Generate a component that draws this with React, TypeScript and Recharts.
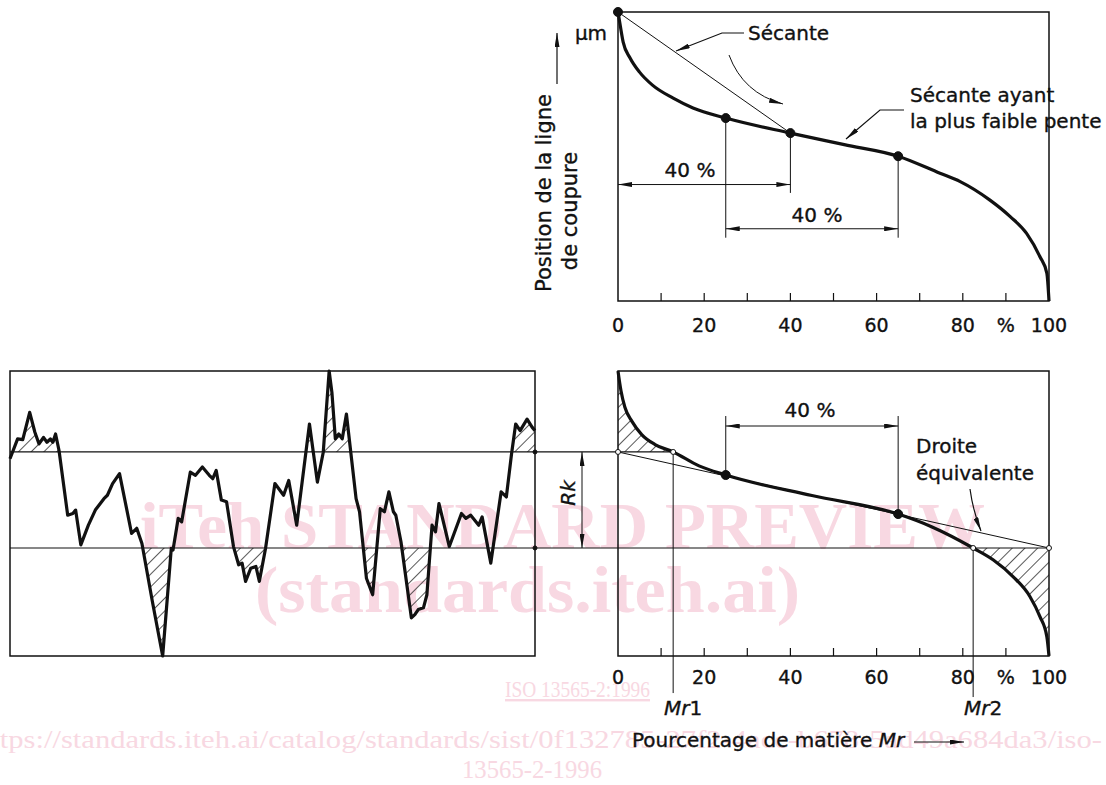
import React from "react";
import {
  ComposedChart,
  Line,
  Area,
  XAxis,
  YAxis,
  ReferenceLine,
  ReferenceArea,
  ReferenceDot,
  Customized,
} from "recharts";

const FONT = '"DejaVu Sans", "Liberation Sans", Arial, sans-serif';
const SERIF = '"Liberation Serif", "DejaVu Serif", serif';
const INK = "#111";
const PINK = "#f8d8e2";

// courbe du haut (Mr %, position de la ligne de coupure)
const topMr = [0, 0.5, 1.2, 2.8, 5, 8, 12.8, 17.4, 25, 40, 52.5, 65, 74.7, 79.4, 86.3, 91, 94.8, 97.9, 99.5, 100];
const topCut = [100, 95.5, 89.6, 84.1, 79.2, 74.7, 70.2, 66.8, 63.3, 58.1, 54.1, 50.1, 44.2, 41.3, 34.9, 29.2, 23.4, 15.3, 9.6, 0];

// courbe du bas, avec droite équivalente
const lowMr = [0, 0.7, 1.6, 3.2, 5.5, 8.6, 12.8, 18.8, 25, 45, 65, 73, 82.4, 87.1, 91.7, 95.6, 97.9, 99.5, 100];
const lowCut = [100, 93, 87.3, 82.4, 77.7, 74.2, 71.6, 66.7, 63.5, 56.3, 49.8, 45.2, 37.9, 33.7, 27.8, 20.8, 13.8, 6.8, 0];

// profil (abscisse 0-100, hauteur 0-100)
const profX = [
  0, 1.45, 2.43, 3.75, 4.74, 5.53, 6.38, 7.04, 7.7, 8.16, 8.68, 9.34, 10.99, 11.97, 12.5, 13.49, 14.93, 16.25,
  17.89, 18.55, 19.54, 20.86, 23.16, 24.14, 25.13, 27.11, 29.08, 30.72, 31.05, 32.04, 32.7, 34.34, 35.33, 36.64,
  37.96, 38.62, 39.28, 40.26, 41.25, 42.57, 43.55, 44.21, 44.87, 45.86, 46.84, 47.5, 48.68, 50.46, 52.11, 53.09,
  54.61, 57.04, 58.55, 59.67, 60.79, 61.32, 61.97, 62.63, 63.29, 64.08, 65.92, 66.58, 67.89, 69.08, 70.53, 71.32,
  72.17, 73.03, 73.49, 74.47, 76.45, 77.11, 77.76, 78.75, 79.41, 80.39, 81.05, 81.71, 83.68, 85.99, 86.84, 87.76,
  89.28, 89.93, 91.58, 93.55, 94.54, 95.53, 96.32, 97.17, 98.49, 99.47, 100,
];
const profZ = [
  69.2, 76.2, 75.9, 85.5, 78.5, 74.4, 76.7, 75.0, 76.2, 75.0, 77.9, 72.1, 49.4, 50.0, 51.2, 39.0, 45.9, 51.2,
  55.2, 56.4, 60.5, 64.0, 43.0, 44.8, 39.5, 19.2, 0, 37.8, 37.2, 48.3, 47.1, 64.5, 63.4, 66.3,
  63.4, 62.2, 65.1, 54.7, 54.1, 38.4, 32.0, 32.6, 26.2, 30.8, 31.4, 26.2, 37.8, 60.5, 56.4, 61.6,
  45.9, 81.4, 61.0, 71.5, 100, 92.4, 76.2, 77.9, 76.2, 84.9, 55.2, 50.6, 27.3, 21.5, 51.7, 50.6,
  57.6, 50.6, 49.4, 40.1, 13.4, 14.5, 16.3, 16.9, 21.5, 45.9, 43.6, 53.5, 38.4, 50.0, 48.3, 49.4,
  45.9, 48.8, 32.6, 57.6, 55.8, 70.9, 81.4, 79.1, 83.1, 80.2, 79.1,
];

const RK_TOP = 71.6;
const RK_BOT = 37.9;
const MR1 = 12.8;
const MR2 = 82.4;

const pctTicks = [0, 10, 20, 30, 40, 50, 60, 70, 80, 90, 100];
const pctLabels: Record<number, string> = { 0: "0", 20: "20", 40: "40", 60: "60", 80: "80", 90: "%", 100: "100" };

const topData = topMr.map((x, i) => ({ x, v: topCut[i] }));
const lowData = lowMr.map((x, i) => ({ x, v: lowCut[i] }));
const profData = profX.map((x, i) => ({ x, v: profZ[i] }));

// texte un peu plus gras que le DejaVu standard, comme sur le dessin
const T = (props: any) => (
  <text fontFamily={FONT} fontSize={20} fill={INK} stroke={INK} strokeWidth={0.35} {...props} />
);

function PctTick(props: any) {
  const { x, y, payload, labelDy } = props;
  const v = payload.value;
  const lab = pctLabels[v];
  return (
    <g>
      {v > 0 && v < 100 && <line x1={x} y1={y} x2={x} y2={y - 8} stroke={INK} strokeWidth={1.2} />}
      {lab && (
        <text
          x={x}
          y={y + labelDy}
          textAnchor="middle"
          fontFamily={FONT}
          fontSize={19}
          fill={INK}
          stroke={INK}
          strokeWidth={0.35}
        >
          {lab}
        </text>
      )}
    </g>
  );
}

function Defs({ id, w, h, up, down }: { id: string; w: number; h: number; up?: number; down?: number }) {
  return (
    <defs>
      <pattern id={`${id}-hatch`} width="9" height="9" patternUnits="userSpaceOnUse" patternTransform="rotate(45)">
        <line x1="0" y1="0" x2="0" y2="9" stroke={INK} strokeWidth="1.4" />
      </pattern>
      <marker
        id={`${id}-arr`}
        viewBox="0 0 14 5"
        refX="14"
        refY="2.5"
        markerWidth="14"
        markerHeight="5"
        markerUnits="userSpaceOnUse"
        orient="auto-start-reverse"
      >
        <path d="M0,0 L14,2.5 L0,5 z" fill={INK} />
      </marker>
      {up != null && (
        <clipPath id={`${id}-up`}>
          <rect x="0" y="0" width={w} height={up} />
        </clipPath>
      )}
      {down != null && (
        <clipPath id={`${id}-down`}>
          <rect x="0" y={down} width={w} height={h - down} />
        </clipPath>
      )}
    </defs>
  );
}

const dim = (id: string, both: boolean) => (p: any) => (
  <line
    x1={p.x1}
    y1={p.y1}
    x2={p.x2}
    y2={p.y2}
    stroke={INK}
    strokeWidth={1}
    markerEnd={`url(#${id}-arr)`}
    markerStart={both ? `url(#${id}-arr)` : undefined}
  />
);

const thin = { stroke: INK, strokeWidth: 1, ifOverflow: "visible" as const };

function TopNotes() {
  return (
    <g>
      <T x={91} y={40} textAnchor="middle">µm</T>
      <line x1={57} y1={84} x2={57} y2={33} stroke={INK} strokeWidth={1.2} markerEnd="url(#t-arr)" />
      <T transform="rotate(-90 44 193)" x={44} y={193} textAnchor="middle" dominantBaseline="central" fontSize={21}>
        Position de la ligne
      </T>
      <T transform="rotate(-90 70 211)" x={70} y={211} textAnchor="middle" dominantBaseline="central" fontSize={21}>
        de coupure
      </T>
      <T x={248} y={40}>Sécante</T>
      <polyline points="244,33 222,33 176,51" fill="none" stroke={INK} strokeWidth={1.2} markerEnd="url(#t-arr)" />
      <path d="M229,55 Q243,93 283,104" fill="none" stroke={INK} strokeWidth={1} markerEnd="url(#t-arr)" />
      <T x={410} y={102}>Sécante ayant</T>
      <T x={410} y={128}>la plus faible pente</T>
      <polyline points="404,110 380,110 346,139" fill="none" stroke={INK} strokeWidth={1.2} markerEnd="url(#t-arr)" />
      <T x={190} y={177} textAnchor="middle">40 %</T>
      <T x={317} y={222} textAnchor="middle">40 %</T>
    </g>
  );
}

function LowNotes() {
  return (
    <g>
      <T x={280} y={62} textAnchor="middle">40 %</T>
      <T x={386} y={98}>Droite</T>
      <T x={386} y={125}>équivalente</T>
      <path d="M440,134 Q443,156 451,176" fill="none" stroke={INK} strokeWidth={1.2} markerEnd="url(#r-arr)" />
      <T transform="rotate(-90 38 138)" x={38} y={138} textAnchor="middle" dominantBaseline="central" fontStyle="italic">
        Rk
      </T>
      <T x={153} y={360} textAnchor="middle">
        <tspan fontStyle="italic">Mr</tspan>1
      </T>
      <T x={453} y={360} textAnchor="middle">
        <tspan fontStyle="italic">Mr</tspan>2
      </T>
      <T x={102} y={392}>
        Pourcentage de matière <tspan fontStyle="italic">Mr</tspan>
      </T>
      <line x1={384} y1={387} x2={434} y2={387} stroke={INK} strokeWidth={1.2} markerEnd="url(#r-arr)" />
    </g>
  );
}

function TopChart() {
  return (
    <div style={{ position: "absolute", left: 500, top: 0 }}>
      <ComposedChart width={606} height={345} margin={{ top: 12, right: 57, left: 118, bottom: 14 }}>
        <Customized component={<Defs id="t" w={606} h={345} />} />
        <XAxis
          type="number"
          dataKey="x"
          domain={[0, 100]}
          ticks={pctTicks}
          interval={0}
          height={30}
          axisLine={false}
          tickLine={false}
          tickSize={0}
          tickMargin={0}
          tick={(p: any) => <PctTick {...p} labelDy={31} />}
        />
        <YAxis type="number" domain={[0, 100]} hide />
        <ReferenceArea x1={0} x2={100} y1={0} y2={100} fill="none" fillOpacity={0} stroke={INK} strokeWidth={1.5} />
        <ReferenceLine segment={[{ x: 0, y: 100 }, { x: 40, y: 58.1 }]} {...thin} />
        <ReferenceLine segment={[{ x: 25, y: 63.3 }, { x: 25, y: 21.9 }]} {...thin} />
        <ReferenceLine segment={[{ x: 40, y: 58.1 }, { x: 40, y: 37.4 }]} {...thin} />
        <ReferenceLine segment={[{ x: 65, y: 50.1 }, { x: 65, y: 21.9 }]} {...thin} />
        <ReferenceLine segment={[{ x: 0, y: 40.3 }, { x: 40, y: 40.3 }]} {...thin} shape={dim("t", true)} />
        <ReferenceLine segment={[{ x: 25, y: 25 }, { x: 65, y: 25 }]} {...thin} shape={dim("t", true)} />
        <Line
          data={topData}
          dataKey="v"
          type="monotone"
          stroke={INK}
          strokeWidth={3.2}
          dot={false}
          activeDot={false}
          isAnimationActive={false}
        />
        {[
          [0, 100],
          [25, 63.3],
          [40, 58.1],
          [65, 50.1],
        ].map(([x, y]) => (
          <ReferenceDot key={x} x={x} y={y} r={4.5} fill={INK} stroke={INK} ifOverflow="visible" />
        ))}
        <Customized component={<TopNotes />} />
      </ComposedChart>
    </div>
  );
}

function LowChart() {
  const yUp = 16 + (100 - RK_TOP) * 2.85;
  const yDown = 16 + (100 - RK_BOT) * 2.85;
  return (
    <div style={{ position: "absolute", left: 530, top: 355 }}>
      <ComposedChart width={576} height={430} margin={{ top: 16, right: 57, left: 88, bottom: 99 }}>
        <Customized component={<Defs id="r" w={576} h={430} up={yUp} down={yDown} />} />
        <XAxis
          type="number"
          dataKey="x"
          domain={[0, 100]}
          ticks={pctTicks}
          interval={0}
          height={30}
          axisLine={false}
          tickLine={false}
          tickSize={0}
          tickMargin={0}
          tick={(p: any) => <PctTick {...p} labelDy={28} />}
        />
        <YAxis type="number" domain={[0, 100]} hide />
        <Area
          data={lowData}
          dataKey="v"
          type="monotone"
          baseValue={RK_TOP}
          stroke="none"
          fill="url(#r-hatch)"
          fillOpacity={1}
          clipPath="url(#r-up)"
          isAnimationActive={false}
        />
        <Area
          data={lowData}
          dataKey="v"
          type="monotone"
          baseValue={RK_BOT}
          stroke="none"
          fill="url(#r-hatch)"
          fillOpacity={1}
          clipPath="url(#r-down)"
          isAnimationActive={false}
        />
        <ReferenceArea x1={0} x2={100} y1={0} y2={100} fill="none" fillOpacity={0} stroke={INK} strokeWidth={1.5} />
        <ReferenceLine segment={[{ x: 0, y: RK_TOP }, { x: 100, y: RK_BOT }]} {...thin} />
        <ReferenceLine segment={[{ x: -19.3, y: RK_TOP }, { x: MR1, y: RK_TOP }]} {...thin} strokeWidth={1.2} />
        <ReferenceLine segment={[{ x: -19.3, y: RK_BOT }, { x: 100, y: RK_BOT }]} {...thin} strokeWidth={1.2} />
        <ReferenceLine segment={[{ x: -8.35, y: RK_TOP }, { x: -8.35, y: RK_BOT }]} {...thin} shape={dim("r", true)} />
        <ReferenceLine segment={[{ x: MR1, y: RK_TOP }, { x: MR1, y: -13 }]} {...thin} />
        <ReferenceLine segment={[{ x: MR2, y: RK_BOT }, { x: MR2, y: -14.4 }]} {...thin} />
        <ReferenceLine segment={[{ x: 25, y: 63.5 }, { x: 25, y: 84.2 }]} {...thin} />
        <ReferenceLine segment={[{ x: 65, y: 49.8 }, { x: 65, y: 84.2 }]} {...thin} />
        <ReferenceLine segment={[{ x: 25, y: 80.7 }, { x: 65, y: 80.7 }]} {...thin} shape={dim("r", true)} />
        <Line
          data={lowData}
          dataKey="v"
          type="monotone"
          stroke={INK}
          strokeWidth={3.2}
          dot={false}
          activeDot={false}
          isAnimationActive={false}
        />
        <ReferenceDot x={25} y={63.5} r={4.5} fill={INK} stroke={INK} />
        <ReferenceDot x={65} y={49.8} r={4.5} fill={INK} stroke={INK} />
        {[
          [0, RK_TOP],
          [MR1, RK_TOP],
          [MR2, RK_BOT],
          [100, RK_BOT],
        ].map(([x, y]) => (
          <ReferenceDot key={x} x={x} y={y} r={2.5} fill="#fff" stroke={INK} strokeWidth={1} ifOverflow="visible" />
        ))}
        <Customized component={<LowNotes />} />
      </ComposedChart>
    </div>
  );
}

function ProfileChart() {
  const yUp = 16 + (100 - RK_TOP) * 2.85;
  const yDown = 16 + (100 - RK_BOT) * 2.85;
  return (
    <div style={{ position: "absolute", left: 0, top: 355 }}>
      <ComposedChart width={545} height={310} margin={{ top: 16, right: 10, left: 10, bottom: 9 }}>
        <Customized component={<Defs id="p" w={545} h={310} up={yUp} down={yDown} />} />
        <XAxis type="number" dataKey="x" domain={[0, 100]} hide />
        <YAxis type="number" domain={[0, 100]} hide />
        <Area
          data={profData}
          dataKey="v"
          type="linear"
          baseValue={RK_TOP}
          stroke="none"
          fill="url(#p-hatch)"
          fillOpacity={1}
          clipPath="url(#p-up)"
          isAnimationActive={false}
        />
        <Area
          data={profData}
          dataKey="v"
          type="linear"
          baseValue={RK_BOT}
          stroke="none"
          fill="url(#p-hatch)"
          fillOpacity={1}
          clipPath="url(#p-down)"
          isAnimationActive={false}
        />
        <ReferenceArea x1={0} x2={100} y1={0} y2={100} fill="none" fillOpacity={0} stroke={INK} strokeWidth={1.5} />
        <ReferenceLine y={RK_TOP} stroke={INK} strokeWidth={1.2} />
        <ReferenceLine y={RK_BOT} stroke={INK} strokeWidth={1.2} />
        <Line
          data={profData}
          dataKey="v"
          type="linear"
          stroke={INK}
          strokeWidth={3.2}
          strokeLinejoin="round"
          dot={false}
          activeDot={false}
          isAnimationActive={false}
        />
        <ReferenceDot x={100} y={RK_TOP} r={2} fill={INK} stroke={INK} ifOverflow="visible" />
        <ReferenceDot x={100} y={RK_BOT} r={2} fill={INK} stroke={INK} ifOverflow="visible" />
      </ComposedChart>
    </div>
  );
}

function Watermark() {
  return (
    <svg width={1106} height={785} style={{ position: "absolute", left: 0, top: 0 }}>
      <text x={140} y={548} fontFamily={SERIF} fontWeight="bold" fontSize={66} fill={PINK} textLength={845} lengthAdjust="spacingAndGlyphs">
        iTeh STANDARD PREVIEW
      </text>
      <text x={255} y={612} fontFamily={SERIF} fontWeight="bold" fontSize={66} fill={PINK} textLength={545} lengthAdjust="spacingAndGlyphs">
        (standards.iteh.ai)
      </text>
      <text x={505} y={697} fontFamily={SERIF} fontSize={24} fill={PINK} textDecoration="underline" textLength={145} lengthAdjust="spacingAndGlyphs">
        ISO 13565-2:1996
      </text>
      <text x={-24} y={748} fontFamily={SERIF} fontSize={25} fill={PINK} textLength={1126} lengthAdjust="spacingAndGlyphs">
        https://standards.iteh.ai/catalog/standards/sist/0f132785-27f2-4acc-b678-5ad49a684da3/iso-
      </text>
      <text x={462} y={778} fontFamily={SERIF} fontSize={25} fill={PINK} textLength={140} lengthAdjust="spacingAndGlyphs">
        13565-2-1996
      </text>
    </svg>
  );
}

export default function App() {
  return (
    <div
      style={{
        position: "absolute",
        left: 0,
        top: 0,
        width: 1106,
        height: 785,
        background: "#fff",
        overflow: "hidden",
        fontFamily: FONT,
      }}
    >
      <Watermark />
      <ProfileChart />
      <LowChart />
      <TopChart />
    </div>
  );
}
